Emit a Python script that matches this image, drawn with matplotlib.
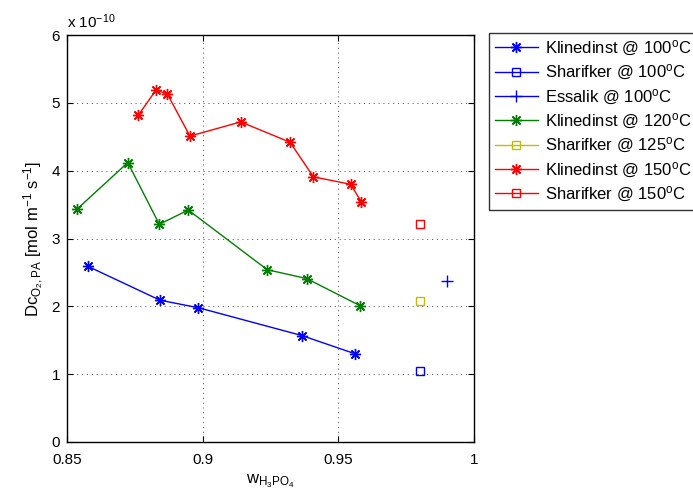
import matplotlib.pyplot as plt
import numpy as np

plt.rcParams['font.family'] = ['Liberation Sans', 'DejaVu Sans']
plt.rcParams['mathtext.fontset'] = 'custom'
plt.rcParams['mathtext.rm'] = 'Liberation Sans'
plt.rcParams['mathtext.it'] = 'Liberation Sans'

# values in units of 1e-10 mol m^-1 s^-1
kl100_w = [0.8577, 0.8843, 0.8984, 0.9365, 0.9562]
kl100_d = [2.59, 2.09, 1.98, 1.57, 1.30]

kl120_w = [0.8536, 0.8724, 0.8840, 0.8947, 0.9238, 0.9383, 0.9580]
kl120_d = [3.43, 4.12, 3.21, 3.42, 2.54, 2.41, 2.01]

kl150_w = [0.8763, 0.8828, 0.8870, 0.8953, 0.9140, 0.9322, 0.9408, 0.9545, 0.9585]
kl150_d = [4.82, 5.19, 5.13, 4.51, 4.72, 4.42, 3.91, 3.80, 3.54]

sh100 = (0.980, 1.05)
es100 = (0.990, 2.37)
sh125 = (0.980, 2.08)
sh150 = (0.980, 3.21)

blue = (0, 0, 1)
green = (0, 0.5, 0)
yellow = (0.75, 0.75, 0)
red = (1, 0, 0)
ast = (8, 2, 0)

fig = plt.figure(figsize=(6.93, 5.01), dpi=100)
ax = fig.add_axes([0.0967, 0.1178, 0.5873, 0.8122])

ax.plot(kl100_w, kl100_d, '-', color=blue, marker=ast, ms=8, mew=1, lw=1,
        label=r'Klinedinst @ 100$^{\mathrm{o}}$C')
ax.plot([sh100[0]], [sh100[1]], '-s', color=blue, mfc='none', ms=6, mew=1, lw=1,
        label=r'Sharifker @ 100$^{\mathrm{o}}$C')
ax.plot([es100[0]], [es100[1]], '-+', color=blue, ms=9, mew=1, lw=1,
        label=r'Essalik @ 100$^{\mathrm{o}}$C')
ax.plot(kl120_w, kl120_d, '-', color=green, marker=ast, ms=8, mew=1, lw=1,
        label=r'Klinedinst @ 120$^{\mathrm{o}}$C')
ax.plot([sh125[0]], [sh125[1]], '-s', color=yellow, mfc='none', ms=6, mew=1, lw=1,
        label=r'Sharifker @ 125$^{\mathrm{o}}$C')
ax.plot(kl150_w, kl150_d, '-', color=red, marker=ast, ms=8, mew=1, lw=1,
        label=r'Klinedinst @ 150$^{\mathrm{o}}$C')
ax.plot([sh150[0]], [sh150[1]], '-s', color=red, mfc='none', ms=6, mew=1, lw=1,
        label=r'Sharifker @ 150$^{\mathrm{o}}$C')

ax.set_xlim(0.85, 1.0)
ax.set_ylim(0, 6)
ax.set_xticks([0.85, 0.9, 0.95, 1.0])
ax.set_xticklabels(['0.85', '0.9', '0.95', '1'])
ax.set_yticks(range(7))
ax.tick_params(direction='in', labelsize=11, length=4, top=True, right=True)
ax.tick_params(axis='x', pad=8)
ax.tick_params(axis='y', pad=5)
ax.grid(True, linestyle=(0, (1, 4)), color='0.3', lw=0.7)
for s in ax.spines.values():
    s.set_linewidth(1)

ax.text(0, 1.01, r'x 10$^{-10}$', transform=ax.transAxes, fontsize=11, va='bottom')
ax.set_xlabel(r'$\mathrm{w_{H_3PO_4}}$', fontsize=12, labelpad=4)
ax.set_ylabel(r'$\mathrm{Dc_{O_2,PA}}$ [mol m$^{-1}$ s$^{-1}$]', fontsize=12)

leg = ax.legend(loc='upper left', bbox_to_anchor=(1.0366, 1.005), fontsize=12,
                handlelength=2.6, handletextpad=0.4, frameon=True, fancybox=False,
                borderaxespad=0, labelspacing=0.3, borderpad=0.35)
leg.get_frame().set_edgecolor('black')
leg.get_frame().set_linewidth(1)

fig.savefig('out.png', dpi=100)
